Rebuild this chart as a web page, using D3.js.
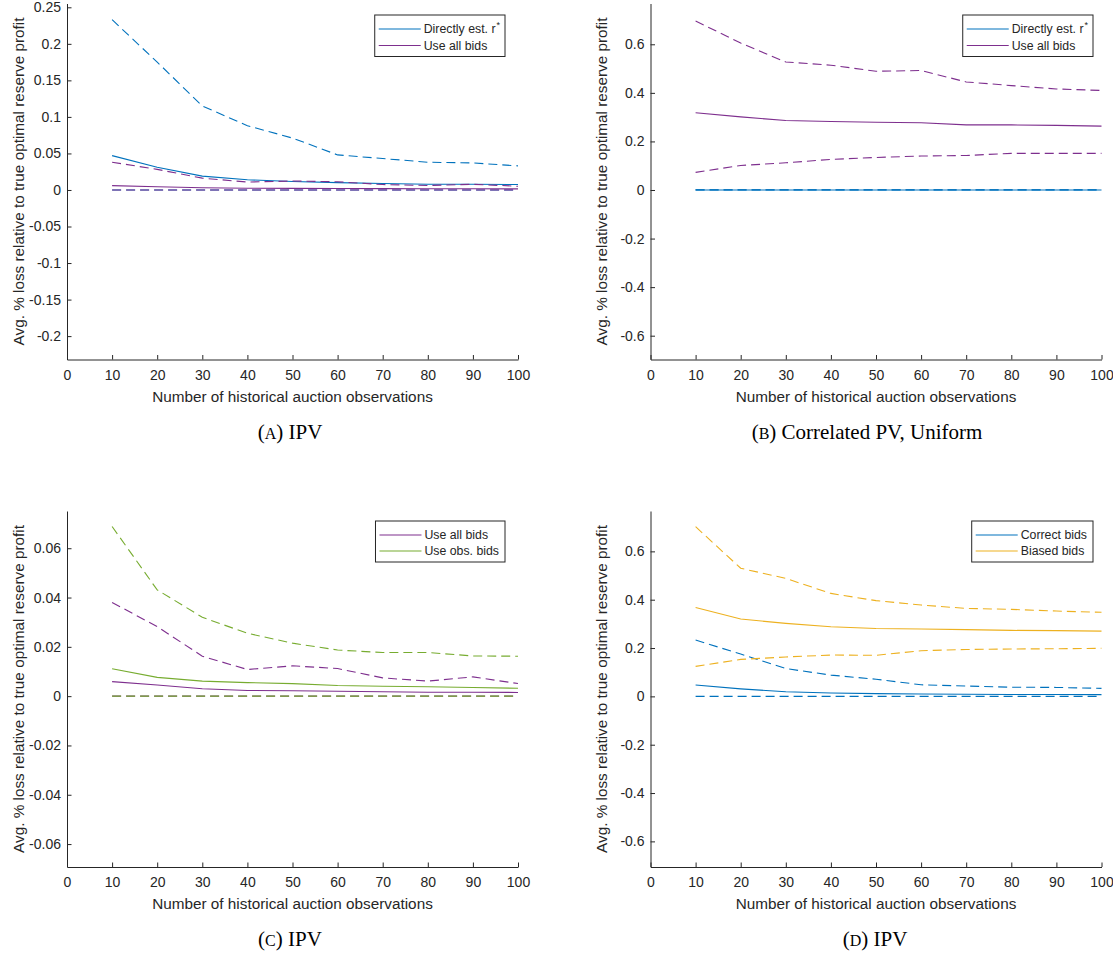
<!DOCTYPE html>
<html>
<head>
<meta charset="utf-8">
<script src="https://cdn.jsdelivr.net/npm/d3@7"></script>
<style>
  body { margin: 0; background: #fff; }
  text { font-family: "Liberation Sans", Arial, sans-serif; fill: #262626; }
  .caption { font-family: "Liberation Serif", "Times New Roman", serif; fill: #000; }
</style>
</head>
<body>
<svg id="chart" width="1113" height="953"></svg>
<script>
// ============ DATA ============
const obsCounts = [10, 20, 30, 40, 50, 60, 70, 80, 90, 100];
const xTicks = [0, 10, 20, 30, 40, 50, 60, 70, 80, 90, 100];

// IPV, directly estimated r* (same series is "Correct bids" in panel D)
const ipvDirectMean  = [0.047, 0.031, 0.019, 0.014, 0.0115, 0.010, 0.0088, 0.0078, 0.0078, 0.0074];
const ipvDirectUpper = [0.233, 0.175, 0.115, 0.088, 0.071, 0.048, 0.043, 0.038, 0.037, 0.033];
const ipvDirectLower = [0, 0, 0, 0, 0, 0, 0, 0, 0, 0];

// IPV, use all bids
const ipvAllMean  = [0.0059, 0.0045, 0.0030, 0.0023, 0.0022, 0.0020, 0.0018, 0.0016, 0.0016, 0.0015];
const ipvAllUpper = [0.038, 0.0282, 0.0162, 0.0108, 0.0123, 0.0112, 0.0074, 0.0061, 0.0078, 0.0051];
const ipvAllLower = [0, 0, 0, 0, 0, 0, 0, 0, 0, 0];

// IPV, use observed bids
const ipvObsMean  = [0.0111, 0.0076, 0.0061, 0.0055, 0.0051, 0.0043, 0.0040, 0.0038, 0.0035, 0.0032];
const ipvObsUpper = [0.0688, 0.0431, 0.032, 0.0255, 0.0215, 0.0187, 0.0177, 0.0177, 0.0163, 0.0162];
const ipvObsLower = [0, 0, 0, 0, 0, 0, 0, 0, 0, 0];

// Correlated PV, uniform
const corrDirectMean  = [0, 0, 0, 0, 0, 0, 0, 0, 0, 0];
const corrDirectUpper = [0.001, 0.001, 0.001, 0.001, 0.001, 0.001, 0.001, 0.001, 0.001, 0.001];
const corrDirectLower = [0, 0, 0, 0, 0, 0, 0, 0, 0, 0];
const corrAllMean  = [0.318, 0.301, 0.286, 0.282, 0.279, 0.277, 0.268, 0.268, 0.266, 0.263];
const corrAllUpper = [0.696, 0.605, 0.527, 0.514, 0.489, 0.492, 0.445, 0.430, 0.416, 0.410];
const corrAllLower = [0.0726, 0.101, 0.112, 0.126, 0.134, 0.140, 0.142, 0.151, 0.151, 0.151];

// IPV, biased bids
const biasedMean  = [0.368, 0.320, 0.302, 0.288, 0.281, 0.279, 0.276, 0.273, 0.272, 0.270];
const biasedUpper = [0.702, 0.530, 0.488, 0.426, 0.396, 0.378, 0.364, 0.360, 0.353, 0.348];
const biasedLower = [0.124, 0.153, 0.163, 0.171, 0.170, 0.189, 0.194, 0.196, 0.197, 0.199];

const ticksWide = [-0.6, -0.4, -0.2, 0, 0.2, 0.4, 0.6];
const ticksA = [-0.2, -0.15, -0.1, -0.05, 0, 0.05, 0.1, 0.15, 0.2, 0.25];
const ticksC = [-0.06, -0.04, -0.02, 0, 0.02, 0.04, 0.06];

const blue = "#0072BD", purple = "#7E2F8E", green = "#77AC30", yellow = "#EDB120";

// ============ PANEL SETUP ============
const plotW = 451, plotH = 356;

const panels = [
    {left: 67, top: 3.5, yDomain: [-0.232, 0.2552], yTicks: ticksA,
     groups: [{color: blue, mean: ipvDirectMean, upper: ipvDirectUpper, lower: ipvDirectLower},
              {color: purple, mean: ipvAllMean, upper: ipvAllUpper, lower: ipvAllLower}],
     legend: [{label: "Directly est. r", sup: "*", color: blue}, {label: "Use all bids", color: purple}],
     legendBox: {right: 505, top: 15, rowH: 16.5},
     caption: {x: 290, y: 439, letter: "A", rest: " IPV"}},
    {left: 650.5, top: 3.5, yDomain: [-0.698, 0.768], yTicks: ticksWide,
     groups: [{color: blue, mean: corrDirectMean, upper: corrDirectUpper, lower: corrDirectLower},
              {color: purple, mean: corrAllMean, upper: corrAllUpper, lower: corrAllLower}],
     legend: [{label: "Directly est. r", sup: "*", color: blue}, {label: "Use all bids", color: purple}],
     legendBox: {right: 1093, top: 15, rowH: 16.5},
     caption: {x: 867, y: 439, letter: "B", rest: " Correlated PV, Uniform"}},
    {left: 67, top: 511, yDomain: [-0.0693, 0.0751], yTicks: ticksC,
     groups: [{color: purple, mean: ipvAllMean, upper: ipvAllUpper, lower: ipvAllLower},
              {color: green, mean: ipvObsMean, upper: ipvObsUpper, lower: ipvObsLower}],
     legend: [{label: "Use all bids", color: purple}, {label: "Use obs. bids", color: green}],
     legendBox: {right: 505, top: 521, rowH: 16},
     caption: {x: 290, y: 946, letter: "C", rest: " IPV"}},
    {left: 650.5, top: 511, yDomain: [-0.706, 0.767], yTicks: ticksWide,
     groups: [{color: blue, mean: ipvDirectMean, upper: ipvDirectUpper, lower: ipvDirectLower},
              {color: yellow, mean: biasedMean, upper: biasedUpper, lower: biasedLower}],
     legend: [{label: "Correct bids", color: blue}, {label: "Biased bids", color: yellow}],
     legendBox: {right: 1093, top: 521, rowH: 16},
     caption: {x: 875, y: 946, letter: "D", rest: " IPV"}}
];

const svg = d3.select("#chart");
const fmt = d => String(+d.toFixed(3));

panels.forEach(p => {
    const g = svg.append("g").attr("transform", `translate(${p.left},${p.top})`);

    const x = d3.scaleLinear().domain([0, 100]).range([0, plotW]);
    const y = d3.scaleLinear().domain(p.yDomain).range([plotH, 0]);

    // axes, ticks pointing inward like MATLAB
    const xAxis = g.append("g")
        .attr("transform", `translate(0,${plotH})`)
        .call(d3.axisBottom(x).tickValues(xTicks).tickFormat(fmt)
            .tickSizeInner(-4.5).tickSizeOuter(0).tickPadding(10.5));
    const yAxis = g.append("g")
        .call(d3.axisLeft(y).tickValues(p.yTicks).tickFormat(fmt)
            .tickSizeInner(-4.5).tickSizeOuter(0).tickPadding(6));
    [xAxis, yAxis].forEach(a => {
        a.selectAll("path, line").attr("stroke", "#262626");
        a.selectAll("text").attr("font-size", 14).attr("fill", "#262626")
            .attr("font-family", "Liberation Sans, Arial, sans-serif");
    });

    // axis labels
    g.append("text")
        .attr("x", plotW / 2)
        .attr("y", plotH + 42)
        .attr("text-anchor", "middle")
        .attr("font-size", 15.3)
        .text("Number of historical auction observations");

    g.append("text")
        .attr("transform", "rotate(-90)")
        .attr("x", -plotH / 2)
        .attr("y", -43.5)
        .attr("text-anchor", "middle")
        .attr("font-size", 15.3)
        .text("Avg. % loss relative to true optimal reserve profit");

    // lines
    const line = d3.line()
        .x((d, i) => x(obsCounts[i]))
        .y(d => y(d));

    p.groups.forEach(s => {
        [["upper", "9,5"], ["lower", "9,5"], ["mean", null]].forEach(([key, dash]) => {
            g.append("path")
                .datum(s[key])
                .attr("fill", "none")
                .attr("stroke", s.color)
                .attr("stroke-width", 1.1)
                .attr("stroke-dasharray", dash)
                .attr("d", line);
        });
    });

    // legend
    const lb = p.legendBox;
    const legend = svg.append("g");
    const box = legend.append("rect")
        .attr("fill", "#fff")
        .attr("stroke", "#262626")
        .attr("stroke-width", 1);
    const items = legend.append("g");
    p.legend.forEach((item, i) => {
        const row = items.append("g").attr("transform", `translate(0,${lb.top + 14 + i * lb.rowH})`);
        row.append("line")
            .attr("x1", 4).attr("x2", 46)
            .attr("stroke", item.color).attr("stroke-width", 1.1);
        const t = row.append("text")
            .attr("x", 49)
            .attr("dy", "0.35em")
            .attr("font-size", 12.3)
            .text(item.label);
        if (item.sup) {
            t.append("tspan").attr("dy", "-0.55em").attr("dx", 1).attr("font-size", 9).text(item.sup);
        }
    });
    const w = d3.max(items.selectAll("text").nodes(), n => n.getComputedTextLength()) + 49 + 6;
    const legendH = 14 + (p.legend.length - 1) * lb.rowH + 11;
    items.attr("transform", `translate(${lb.right - w},0)`);
    box.attr("x", lb.right - w).attr("y", lb.top).attr("width", w).attr("height", legendH);

    // caption with small-caps letter
    const cap = svg.append("text")
        .attr("class", "caption")
        .attr("x", p.caption.x)
        .attr("y", p.caption.y)
        .attr("text-anchor", "middle")
        .attr("font-size", 21);
    cap.append("tspan").text("(");
    cap.append("tspan").attr("font-size", 16).text(p.caption.letter);
    cap.append("tspan").text(")" + p.caption.rest);
});
</script>
</body>
</html>
